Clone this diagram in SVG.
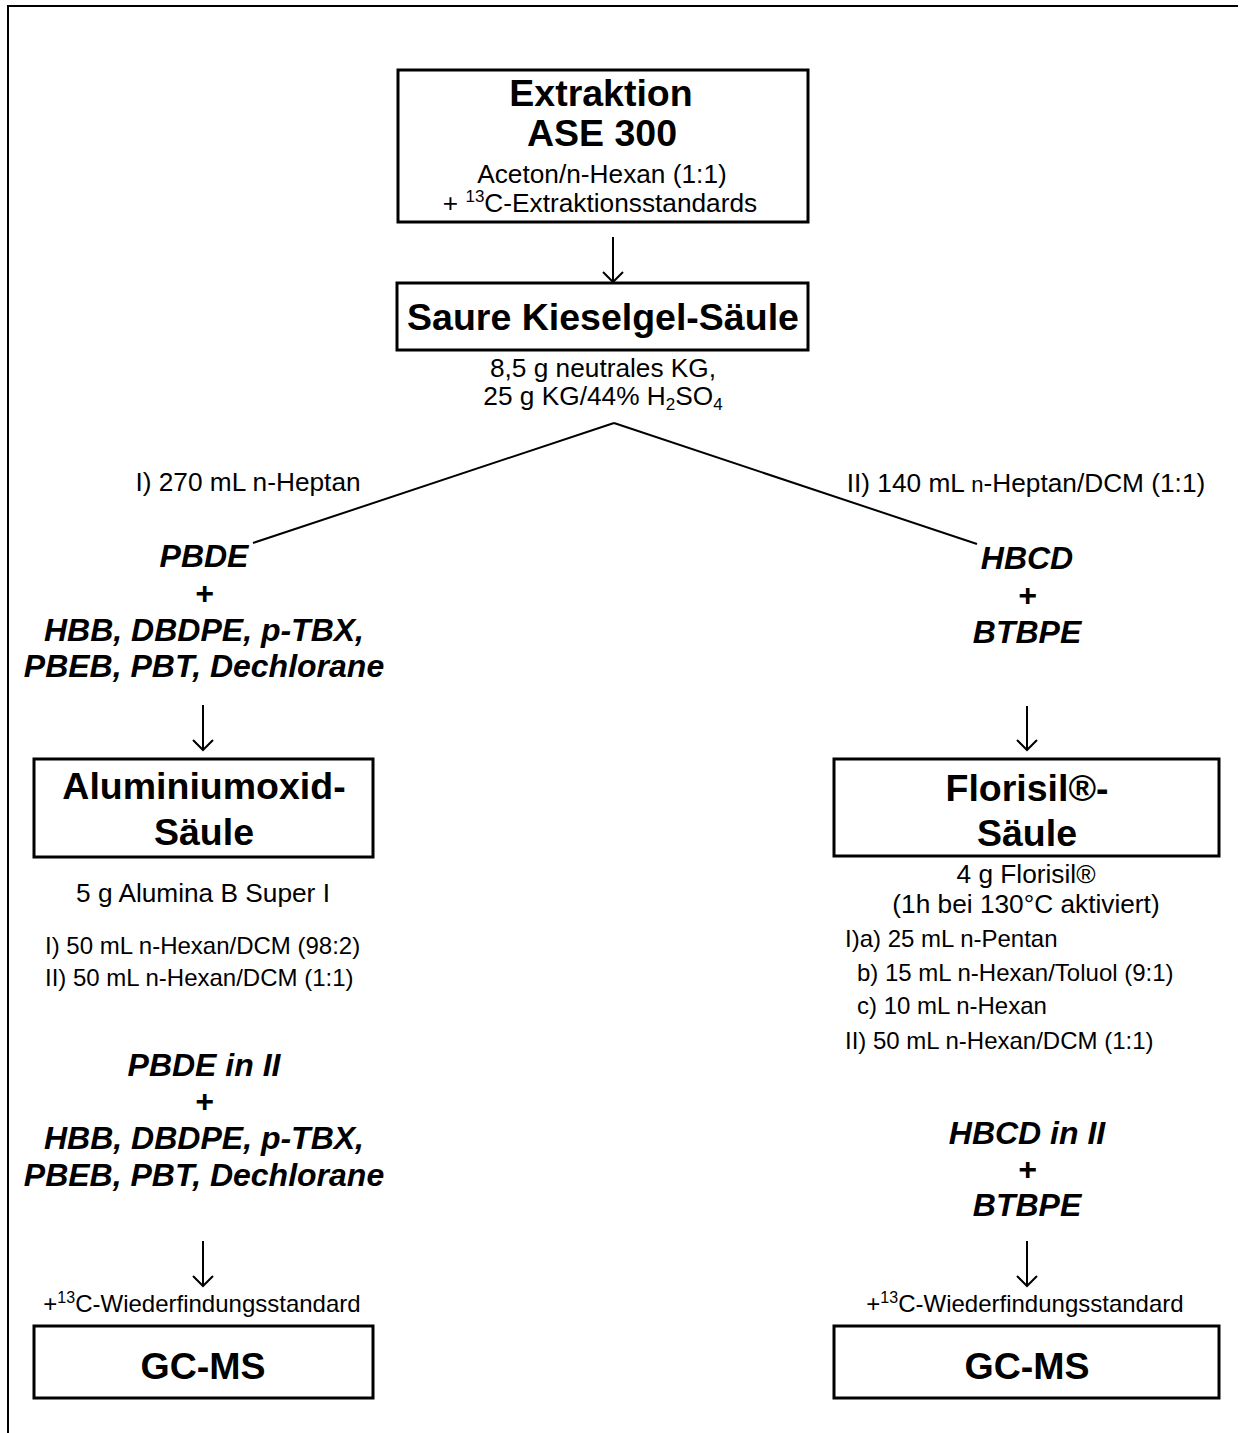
<svg xmlns="http://www.w3.org/2000/svg" width="1241" height="1433" viewBox="0 0 1241 1433">
  <defs>
    <style>
      text { font-family: "Liberation Sans", Arial, sans-serif; fill: #000; }
      .title { font-size: 37.5px; font-weight: bold; text-anchor: middle; }
      .body { font-size: 26.25px; text-anchor: middle; }
      .small { font-size: 24px; }
      .smallc { font-size: 24px; text-anchor: middle; }
      .ana { font-size: 32px; font-weight: bold; font-style: italic; text-anchor: middle; }
      .box { fill: #fff; stroke: #000; stroke-width: 3; }
      .frame { fill: none; stroke: #000; stroke-width: 2; }
      .conn { fill: none; stroke: #000; stroke-width: 2; }
      .arrow { fill: none; stroke: #000; stroke-width: 2; }
    </style>
  </defs>

  <rect width="1241" height="1433" fill="#fff"/>

  <!-- page frame: top and left rules -->
  <path class="frame" d="M7 6 H1238 M8 5 V1433"/>

  <!-- connectors -->
  <g id="connectors">
    <path class="arrow" d="M613 237 V282 M603 272 L613 282 L623 272"/>
    <path class="conn" d="M614 423 L253 543 M614 423 L977 544"/>
    <path class="arrow" d="M203 705 V750 M193 740 L203 750 L213 740"/>
    <path class="arrow" d="M1027 706 V750 M1017 740 L1027 750 L1037 740"/>
    <path class="arrow" d="M203 1241 V1286 M193 1276 L203 1286 L213 1276"/>
    <path class="arrow" d="M1027 1241 V1286 M1017 1276 L1027 1286 L1037 1276"/>
    <text class="body" x="248" y="491">I) 270 mL n-Heptan</text>
    <text class="body" x="1026" y="492">II) 140 mL <tspan font-size="22">n</tspan>-Heptan/DCM (1:1)</text>
  </g>

  <!-- extraction -->
  <g id="extraktion">
    <rect class="box" x="398" y="70" width="410" height="152"/>
    <text class="title" x="601" y="106">Extraktion</text>
    <text class="title" x="602" y="146">ASE 300</text>
    <text class="body" x="602" y="183">Aceton/n-Hexan (1:1)</text>
    <text class="body" x="600" y="212">+ <tspan font-size="17" dy="-10">13</tspan><tspan dy="10">C-Extraktionsstandards</tspan></text>
  </g>

  <!-- acidic silica column -->
  <g id="kieselgel">
    <rect class="box" x="397" y="283" width="411" height="67"/>
    <text class="title" x="603" y="330">Saure Kieselgel-Säule</text>
    <text class="body" x="603" y="377">8,5 g neutrales KG,</text>
    <text class="body" x="603" y="405">25 g KG/44% H<tspan font-size="17" dy="5">2</tspan><tspan dy="-5">SO</tspan><tspan font-size="17" dy="5">4</tspan></text>
  </g>

  <!-- fraction I -->
  <g id="fraktion-1">
    <text class="ana" x="204" y="567">PBDE</text>
    <text class="ana" x="204" y="604">+</text>
    <text class="ana" x="204" y="641">HBB, DBDPE, p-TBX,</text>
    <text class="ana" x="204" y="677">PBEB, PBT, Dechlorane</text>
  </g>

  <!-- fraction II -->
  <g id="fraktion-2">
    <text class="ana" x="1027" y="569">HBCD</text>
    <text class="ana" x="1027" y="606">+</text>
    <text class="ana" x="1027" y="643">BTBPE</text>
  </g>

  <!-- alumina column -->
  <g id="aluminiumoxid">
    <rect class="box" x="34" y="759" width="339" height="98"/>
    <text class="title" x="204" y="799">Aluminiumoxid-</text>
    <text class="title" x="204" y="845">Säule</text>
    <text class="body" x="203" y="902">5 g Alumina B Super I</text>
    <text class="small" x="45" y="954">I) 50 mL n-Hexan/DCM (98:2)</text>
    <text class="small" x="45" y="986">II) 50 mL n-Hexan/DCM (1:1)</text>
  </g>

  <!-- Florisil column -->
  <g id="florisil">
    <rect class="box" x="834" y="759" width="385" height="97"/>
    <text class="title" x="1027" y="801">Florisil®-</text>
    <text class="title" x="1027" y="846">Säule</text>
    <text class="body" x="1026" y="883">4 g Florisil®</text>
    <text class="body" x="1026" y="913">(1h bei 130°C aktiviert)</text>
    <text class="small" x="845" y="947">I)a) 25 mL n-Pentan</text>
    <text class="small" x="857" y="981">b) 15 mL n-Hexan/Toluol (9:1)</text>
    <text class="small" x="857" y="1014">c) 10 mL n-Hexan</text>
    <text class="small" x="845" y="1049">II) 50 mL n-Hexan/DCM (1:1)</text>
  </g>

  <!-- alumina eluate -->
  <g id="eluat-links">
    <text class="ana" x="204" y="1076">PBDE in II</text>
    <text class="ana" x="204" y="1112">+</text>
    <text class="ana" x="204" y="1149">HBB, DBDPE, p-TBX,</text>
    <text class="ana" x="204" y="1186">PBEB, PBT, Dechlorane</text>
  </g>

  <!-- Florisil eluate -->
  <g id="eluat-rechts">
    <text class="ana" x="1027" y="1144">HBCD in II</text>
    <text class="ana" x="1027" y="1180">+</text>
    <text class="ana" x="1027" y="1216">BTBPE</text>
  </g>

  <!-- GC-MS, left -->
  <g id="gcms-links">
    <text class="smallc" x="202" y="1312">+<tspan font-size="16" dy="-9">13</tspan><tspan dy="9">C-Wiederfindungsstandard</tspan></text>
    <rect class="box" x="34" y="1326" width="339" height="72"/>
    <text class="title" x="203" y="1379">GC-MS</text>
  </g>

  <!-- GC-MS, right -->
  <g id="gcms-rechts">
    <text class="smallc" x="1025" y="1312">+<tspan font-size="16" dy="-9">13</tspan><tspan dy="9">C-Wiederfindungsstandard</tspan></text>
    <rect class="box" x="834" y="1326" width="385" height="72"/>
    <text class="title" x="1027" y="1379">GC-MS</text>
  </g>
</svg>
